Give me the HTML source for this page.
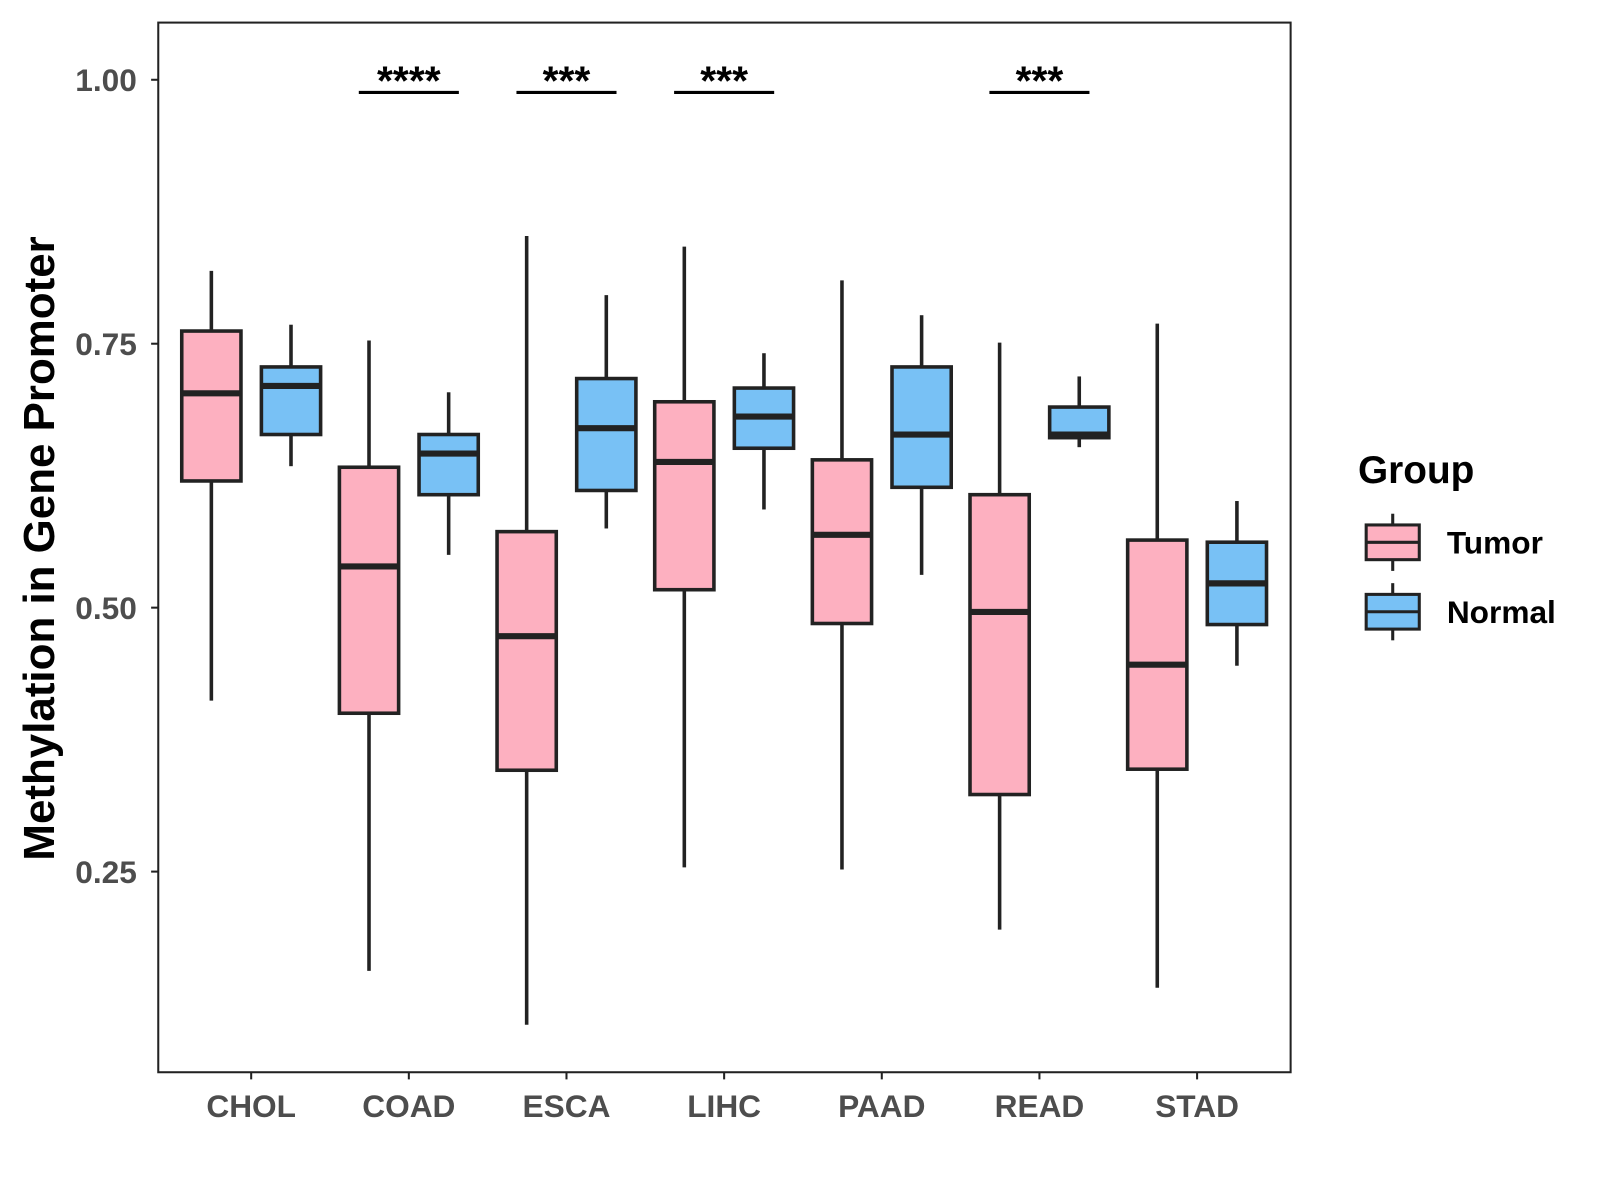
<!DOCTYPE html>
<html><head><meta charset="utf-8"><style>
html,body{margin:0;padding:0;background:#fff;width:1600px;height:1200px;overflow:hidden}
text{font-family:"Liberation Sans",Arial,sans-serif;font-weight:bold}
</style></head><body>
<svg id="chart" width="1600" height="1200" viewBox="0 0 1567 1175" xmlns="http://www.w3.org/2000/svg">
<rect x="155" y="22" width="1109" height="1028" fill="#fff" stroke="#222" stroke-width="2"/>
<g id="marks"></g>
<text transform="translate(53,537) rotate(-90)" text-anchor="middle" font-size="43" fill="#000">Methylation in Gene Promoter</text>
<text x="1330" y="473" font-size="38" fill="#000">Group</text>
</svg>
<script>
const categories=["CHOL","COAD","ESCA","LIHC","PAAD","READ","STAD"];
const tumorStats=[[0.412,0.620,0.703,0.762,0.819],[0.156,0.400,0.539,0.633,0.753],[0.105,0.346,0.473,0.572,0.852],[0.254,0.517,0.638,0.695,0.842],[0.252,0.485,0.569,0.640,0.810],[0.195,0.323,0.496,0.607,0.751],[0.140,0.347,0.446,0.564,0.769]];
const normalStats=[[0.634,0.664,0.710,0.728,0.768],[0.550,0.607,0.646,0.664,0.704],[0.575,0.611,0.670,0.717,0.796],[0.593,0.651,0.681,0.708,0.741],[0.531,0.614,0.664,0.728,0.777],[0.652,0.661,0.664,0.690,0.719],[0.445,0.484,0.523,0.562,0.601]];
const yTicks=[0.25,0.50,0.75,1.00];
const yTickLabels=["0.25","0.50","0.75","1.00"];
const sigLabels=["","****","***","***","","***",""];
const sigLevel=0.988;
const NS="http://www.w3.org/2000/svg";
const g=document.getElementById('marks');
const svg=document.getElementById('chart');
function y(v){return 78+(1-v)*1034;}
function x(i){return 246+i*154.4;}
function mk(tag,attrs,parent){const e=document.createElementNS(NS,tag);for(const k in attrs)e.setAttribute(k,attrs[k]);(parent||g).appendChild(e);return e;}
yTicks.forEach((t,i)=>{
  const l=mk('line',{x1:148,x2:155,y1:y(t),y2:y(t),stroke:'#222','stroke-width':2});
  
  
  const tx=mk('text',{x:134,y:y(t)+11,'text-anchor':'end','font-size':31,fill:'#4d4d4d'});
  tx.textContent=yTickLabels[i];
  
  
});
function box(cx,s,fill,name){
  const w=58;
  const grp=mk('g',{});
  
  
  mk('line',{x1:cx,x2:cx,y1:y(s[4]),y2:y(s[3]),stroke:'#222','stroke-width':3.5},grp);
  mk('line',{x1:cx,x2:cx,y1:y(s[1]),y2:y(s[0]),stroke:'#222','stroke-width':3.5},grp);
  mk('rect',{x:cx-w/2,y:y(s[3]),width:w,height:y(s[1])-y(s[3]),fill:fill,stroke:'#222','stroke-width':3.5},grp);
  mk('line',{x1:cx-w/2,x2:cx+w/2,y1:y(s[2]),y2:y(s[2]),stroke:'#222','stroke-width':6},grp);
}
categories.forEach((c,i)=>{
  const cx=x(i);
  box(cx-39,tumorStats[i],'#fdb0c0','box-tumor-'+c.toLowerCase());
  box(cx+39,normalStats[i],'#78c1f5','box-normal-'+c.toLowerCase());
  const t=mk('line',{x1:cx,x2:cx,y1:1050,y2:1057,stroke:'#222','stroke-width':2});
  
  
  const lb=mk('text',{x:cx,y:1094,'text-anchor':'middle','font-size':31,fill:'#4d4d4d'});
  lb.textContent=c;
  
  
  if(sigLabels[i]){
    const b=mk('line',{x1:cx-49,x2:cx+49,y1:y(sigLevel),y2:y(sigLevel),stroke:'#000','stroke-width':3});
    
    
    const st=mk('text',{x:cx,y:y(sigLevel)+2,'text-anchor':'middle','font-size':40,fill:'#000'});
    st.textContent=sigLabels[i];
    
    
  }
});
[["Tumor","#fdb0c0",531],["Normal","#78c1f5",599]].forEach(([n,f,cy])=>{
  const lg=mk('g',{},svg);
  
  
  mk('line',{x1:1364,x2:1364,y1:cy-28,y2:cy+28,stroke:'#222','stroke-width':3},lg);
  mk('rect',{x:1338,y:cy-17,width:52,height:34,fill:f,stroke:'#222','stroke-width':3},lg);
  mk('line',{x1:1338,x2:1390,y1:cy,y2:cy,stroke:'#222','stroke-width':3},lg);
  const t=mk('text',{x:1417,y:cy+11,'font-size':31,fill:'#000'},lg);
  t.textContent=n;
});
</script>
</body></html>
